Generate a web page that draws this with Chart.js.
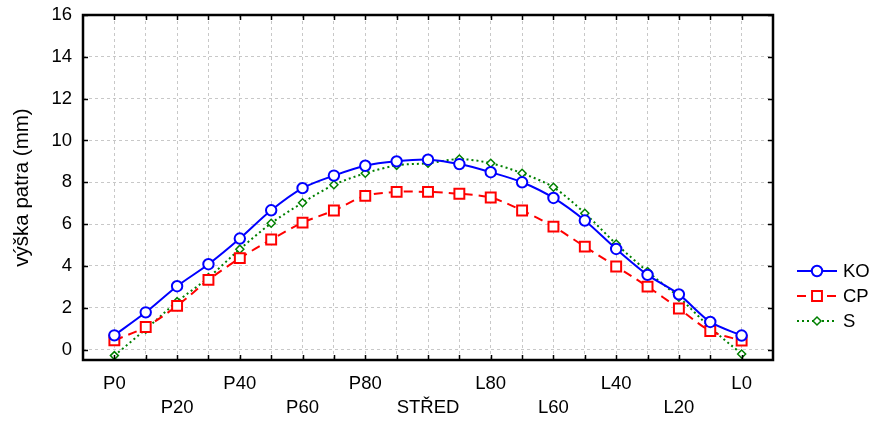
<!DOCTYPE html>
<html>
<head>
<meta charset="utf-8">
<script src="https://cdn.jsdelivr.net/npm/chart.js@4.4.0/dist/chart.umd.min.js"></script>
<style>
html,body{margin:0;padding:0;background:#fff;}
#wrap{width:874px;height:421px;}
</style>
</head>
<body>
<div id="wrap"><canvas id="c" width="874" height="421"></canvas></div>
<script>
const categories = ['P0','P10','P20','P30','P40','P50','P60','P70','P80','P90','STŘED','L90','L80','L70','L60','L50','L40','L30','L20','L10','L0'];
const seriesNames = ['KO','CP','S'];
const koValues = [0.68,1.78,3.03,4.08,5.31,6.66,7.72,8.32,8.79,9.00,9.08,8.87,8.48,8.00,7.25,6.17,4.81,3.57,2.64,1.32,0.67];
const cpValues = [0.44,1.08,2.09,3.33,4.37,5.26,6.07,6.65,7.35,7.54,7.54,7.45,7.27,6.65,5.88,4.92,3.97,3.01,1.96,0.89,0.43];
const sValues  = [-0.29,0.97,2.29,3.44,4.80,6.04,7.02,7.88,8.43,8.81,8.91,9.11,8.91,8.43,7.76,6.52,5.05,3.73,2.50,1.05,-0.21];
const yTicks = [0,2,4,6,8,10,12,14,16];
const yTitle = 'výška patra (mm)';

const FONT = 'Liberation Sans, Arial, sans-serif';
const toPts = arr => arr.map((v,i)=>({x:i,y:v}));

const datasets = [
  {label:seriesNames[0], data:toPts(koValues), borderColor:'#0000ff', backgroundColor:'#ffffff',
   borderWidth:2, pointStyle:'circle', pointRadius:5.2, pointBorderWidth:2, pointBackgroundColor:'#ffffff', pointBorderColor:'#0000ff', tension:0.3},
  {label:seriesNames[1], data:toPts(cpValues), borderColor:'#ff0000', backgroundColor:'#ffffff', borderDash:[9,6],
   borderWidth:2, pointStyle:'rect', pointRadius:7, pointBorderWidth:2, pointBackgroundColor:'#ffffff', pointBorderColor:'#ff0000', tension:0.3},
  {label:seriesNames[2], data:toPts(sValues), borderColor:'#008000', backgroundColor:'#ffffff', borderDash:[2,3],
   borderWidth:2, pointStyle:'rectRot', pointRadius:4, pointBorderWidth:1.5, pointBackgroundColor:'#ffffff', pointBorderColor:'#008000', tension:0.3}
];

const framePlugin = {
  id:'frame',
  afterDatasetsDraw(chart){
    const ctx = chart.ctx, a = chart.chartArea;
    const xs = chart.scales.x, ys = chart.scales.y;
    ctx.save();
    ctx.strokeStyle = '#000'; ctx.lineWidth = 1.5; ctx.setLineDash([]);
    const L = 5;
    ctx.beginPath();
    for (let i=0;i<categories.length;i++){
      const px = Math.round(xs.getPixelForValue(i))+0.5;
      ctx.moveTo(px,a.bottom); ctx.lineTo(px,a.bottom-L);
      ctx.moveTo(px,a.top); ctx.lineTo(px,a.top+L);
    }
    yTicks.forEach(v=>{
      const py = Math.round(ys.getPixelForValue(v))+0.5;
      ctx.moveTo(a.left,py); ctx.lineTo(a.left+L,py);
      ctx.moveTo(a.right,py); ctx.lineTo(a.right-L,py);
    });
    ctx.stroke();
    ctx.lineWidth = 2.5;
    ctx.strokeRect(a.left,a.top,a.right-a.left,a.bottom-a.top);
    ctx.restore();
  },
  afterDraw(chart){
    const ctx = chart.ctx, a = chart.chartArea;
    const x0 = a.right + 24, x1 = a.right + 64, xm = (x0+x1)/2, tx = a.right + 70;
    let y = a.bottom - 89;
    ctx.save();
    chart.data.datasets.forEach(ds=>{
      ctx.strokeStyle = ds.borderColor; ctx.lineWidth = ds.borderWidth;
      ctx.setLineDash(ds.borderDash || []);
      ctx.beginPath(); ctx.moveTo(x0,y); ctx.lineTo(x1,y); ctx.stroke();
      ctx.setLineDash([]);
      ctx.fillStyle = ds.pointBackgroundColor; ctx.strokeStyle = ds.pointBorderColor; ctx.lineWidth = ds.pointBorderWidth;
      Chart.helpers.drawPoint(ctx, {pointStyle:ds.pointStyle, radius:ds.pointRadius, borderWidth:ds.pointBorderWidth, rotation:0}, xm, y);
      ctx.fillStyle = '#000'; ctx.font = '18.5px ' + FONT; ctx.textBaseline = 'middle'; ctx.textAlign='left';
      ctx.fillText(ds.label, tx, y+1);
      y += 25;
    });
    ctx.restore();
  }
};

new Chart(document.getElementById('c'), {
  type:'line',
  data:{datasets},
  options:{
    responsive:false, animation:false, devicePixelRatio:1,
    layout:{padding:{top:15,right:101,left:0,bottom:0}},
    plugins:{legend:{display:false}, tooltip:{enabled:false}},
    scales:{
      x:{type:'linear', min:-1, max:categories.length, 
         afterBuildTicks(s){ const t=[]; for(let i=-1;i<=categories.length;i++) t.push({value:i}); s.ticks=t; },
         afterFit(s){ s.height = 61; s.paddingLeft = 0; s.paddingRight = 0; },
         grid:{color:'#c8c8c8', lineWidth:1, drawTicks:false},
         border:{display:false, dash:[3,3]},
         ticks:{autoSkip:false, maxRotation:0, padding:12, color:'#000',
           font:{family:FONT, size:18.5, lineHeight:1.3},
           callback(v){
             if (v<0 || v>=categories.length || v%2!==0) return '';
             const lab = categories[v];
             return (v/2)%2===0 ? [lab,''] : ['',lab];
           }}
      },
      y:{type:'linear', min:-0.5, max:16,
         afterBuildTicks(s){ s.ticks = yTicks.map(v=>({value:v})); },
         afterFit(s){ s.width = 83; s.paddingTop = 0; s.paddingBottom = 0; },
         grid:{color:'#c8c8c8', lineWidth:1, drawTicks:false},
         border:{display:false, dash:[3,3]},
         ticks:{padding:11, color:'#000', font:{family:FONT, size:18.5}},
         title:{display:true, text:yTitle, color:'#000', font:{family:FONT, size:20.5}, padding:{top:10,bottom:0}}
      }
    }
  },
  plugins:[framePlugin]
});
</script>
</body>
</html>
